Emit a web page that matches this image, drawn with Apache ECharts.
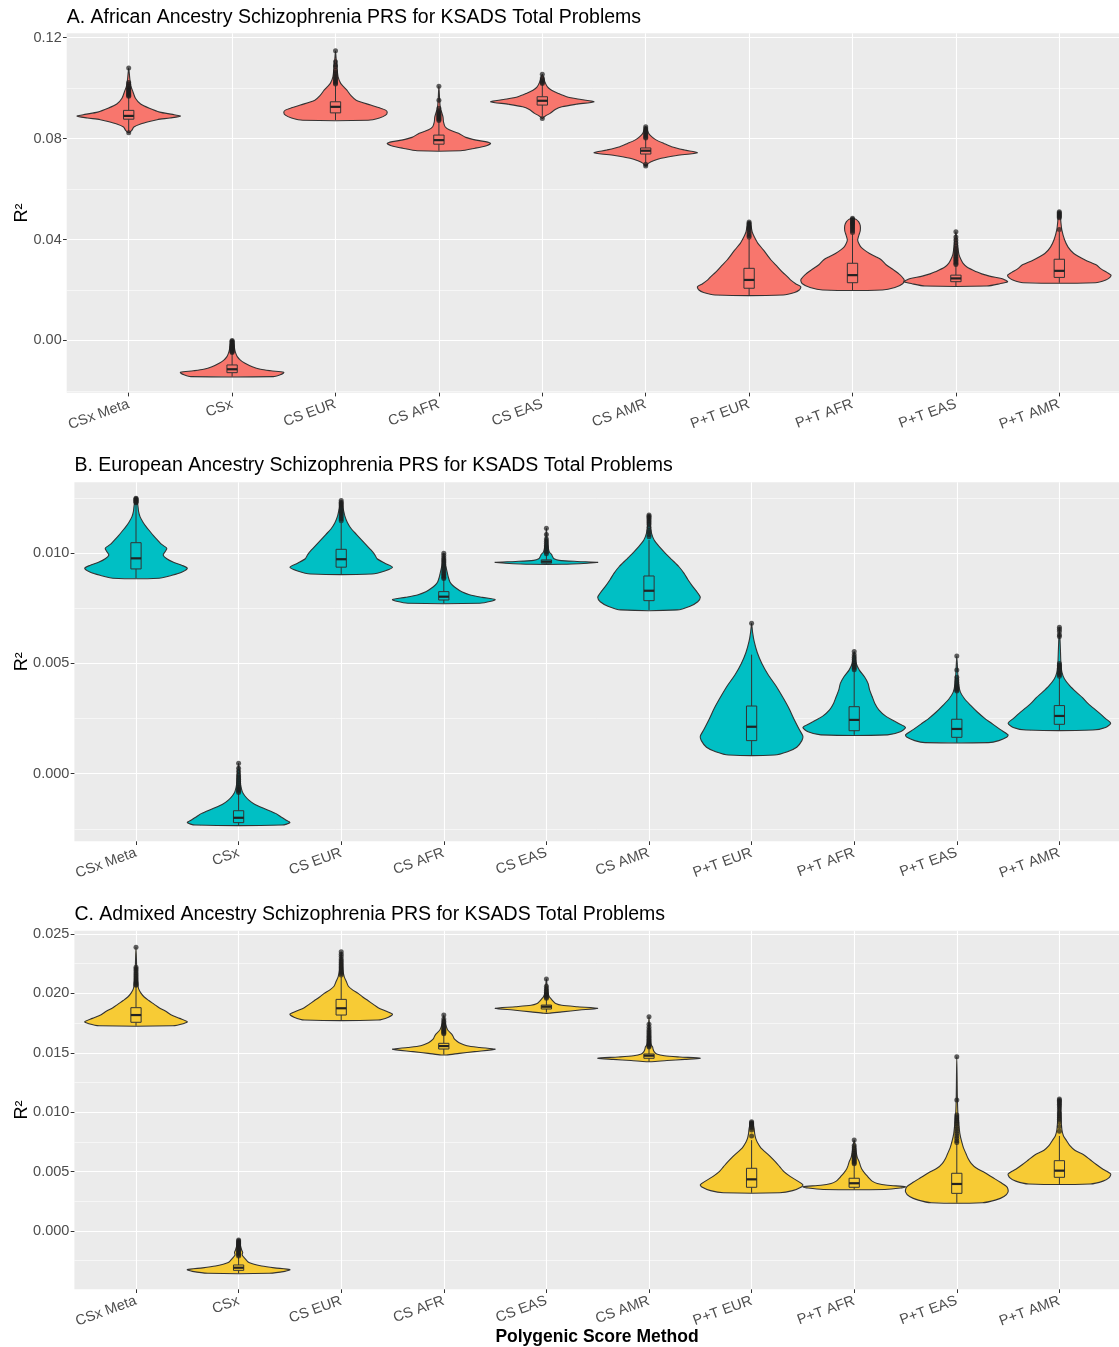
<!DOCTYPE html>
<html><head><meta charset="utf-8">
<script src="https://cdn.jsdelivr.net/npm/echarts@6/dist/echarts.min.js"></script>
<style>html,body{margin:0;padding:0;background:#fff}#chart{width:1119px;height:1347px}</style>
</head><body><div id="chart"></div>
<script>
const categories = ['CSx Meta', 'CSx', 'CS EUR', 'CS AFR', 'CS EAS', 'CS AMR', 'P+T EUR', 'P+T AFR', 'P+T EAS', 'P+T AMR'];

const majorTicksA = [0, 0.04, 0.08, 0.12];
const minorTicksA = [-0.02, 0.02, 0.06, 0.10];
const majorTicksB = [0, 0.005, 0.010];
const minorTicksB = [-0.0025, 0.0025, 0.0075, 0.0125];
const majorTicksC = [0, 0.005, 0.010, 0.015, 0.020, 0.025];
const minorTicksC = [-0.0025, 0.0025, 0.0075, 0.0125, 0.0175, 0.0225];

// violin profiles: [R2 value, relative density width] from bottom to top
const violinA = [
  [[0.0823,0],[0.0833,0.06],[0.0846,0.1],[0.0858,0.23],[0.0868,0.4],[0.0875,0.55],[0.0882,0.8],[0.0889,1.0],[0.0896,0.85],[0.0905,0.6],[0.0920,0.4],[0.0937,0.23],[0.0960,0.13],[0.0987,0.08],[0.1010,0.04],[0.1040,0.02],[0.1080,0]],
  [[-0.0143,0.8],[-0.0136,0.93],[-0.0130,0.99],[-0.0126,1.0],[-0.0120,0.75],[-0.0114,0.55],[-0.0104,0.39],[-0.0090,0.25],[-0.0078,0.16],[-0.0064,0.1],[-0.0050,0.07],[-0.0035,0.05],[-0.0020,0.04],[-0.0005,0.02],[0.0000,0]],
  [[0.0873,0.63],[0.0882,0.85],[0.0893,0.97],[0.0905,1.0],[0.0913,0.97],[0.0922,0.85],[0.0933,0.68],[0.0952,0.4],[0.0970,0.3],[0.0992,0.22],[0.1005,0.16],[0.1019,0.1],[0.1045,0.05],[0.1080,0.03],[0.1110,0.015],[0.1148,0]],
  [[0.0752,0.42],[0.0762,0.7],[0.0772,0.92],[0.0781,1.0],[0.0788,0.9],[0.0794,0.72],[0.0805,0.52],[0.0821,0.38],[0.0835,0.2],[0.0847,0.12],[0.0865,0.09],[0.0885,0.08],[0.0900,0.06],[0.0920,0.03],[0.0950,0.015],[0.1008,0]],
  [[0.0880,0],[0.0890,0.06],[0.0900,0.15],[0.0915,0.25],[0.0926,0.38],[0.0936,0.65],[0.0946,1.0],[0.0955,0.75],[0.0966,0.47],[0.0980,0.3],[0.0992,0.18],[0.1005,0.1],[0.1025,0.05],[0.1055,0]],
  [[0.0692,0],[0.0702,0.05],[0.0712,0.15],[0.0722,0.3],[0.0733,0.6],[0.0744,1.0],[0.0755,0.75],[0.0768,0.5],[0.0781,0.35],[0.0795,0.2],[0.0807,0.12],[0.0820,0.06],[0.0835,0.03],[0.0847,0]],
  [[0.0180,0.66],[0.0190,0.88],[0.0200,0.97],[0.0213,1.0],[0.0225,0.9],[0.0240,0.8],[0.0253,0.74],[0.0270,0.65],[0.0292,0.55],[0.0320,0.42],[0.0358,0.28],[0.0385,0.17],[0.0411,0.1],[0.0430,0.06],[0.0450,0.04],[0.0470,0]],
  [[0.0200,0.58],[0.0210,0.82],[0.0225,0.97],[0.0240,1.0],[0.0260,0.92],[0.0279,0.8],[0.0300,0.65],[0.0319,0.56],[0.0332,0.45],[0.0345,0.33],[0.0360,0.22],[0.0371,0.16],[0.0385,0.12],[0.0398,0.1],[0.0415,0.12],[0.0435,0.15],[0.0455,0.15],[0.0470,0.12],[0.0480,0.07],[0.0484,0]],
  [[0.0216,0.6],[0.0225,0.85],[0.0233,1.0],[0.0240,0.95],[0.0246,0.88],[0.0255,0.65],[0.0264,0.5],[0.0272,0.4],[0.0290,0.22],[0.0306,0.14],[0.0320,0.1],[0.0340,0.06],[0.0380,0.03],[0.0431,0]],
  [[0.0229,0.7],[0.0240,0.9],[0.0250,0.98],[0.0259,1.0],[0.0270,0.92],[0.0285,0.8],[0.0299,0.72],[0.0319,0.5],[0.0345,0.28],[0.0370,0.17],[0.0400,0.1],[0.0437,0.05],[0.0470,0.03],[0.0495,0.02],[0.0510,0]]
];
// box: [lower whisker, Q1, median, Q3, upper whisker]
const boxA = [
  [0.0828,0.0877,0.0890,0.0912,0.0963],
  [-0.0143,-0.01275,-0.0114,-0.0097,-0.0052],
  [0.0873,0.0902,0.0926,0.0946,0.1010],
  [0.0752,0.0778,0.0794,0.0814,0.0866],
  [0.0890,0.0933,0.0950,0.0966,0.1014],
  [0.0705,0.0739,0.0752,0.0763,0.0798],
  [0.0180,0.0207,0.0240,0.0286,0.0403],
  [0.0200,0.0229,0.0259,0.0306,0.0420],
  [0.0216,0.0233,0.0246,0.0259,0.0297],
  [0.0229,0.0250,0.0276,0.0322,0.0430]
];
const outliersA = [
  [0.1080,0.1022,0.1015,0.1008,0.1002,0.0998,0.0994,0.0990,0.0986,0.0982,0.0978,0.0975,0.0971,0.0968,0.0823],
  [0.0000,-0.0003,-0.0006,-0.0009,-0.0012,-0.0015,-0.0018,-0.0021,-0.0024,-0.0027,-0.0030,-0.0033,-0.0036,-0.0039,-0.0042,-0.0045,-0.0048],
  [0.1148,0.1105,0.1092,0.1085,0.1070,0.1062,0.1055,0.1048,0.1042,0.1036,0.1030,0.1025,0.1020,0.1016],
  [0.1008,0.0952,0.0920,0.0910,0.0905,0.0900,0.0896,0.0892,0.0888,0.0884,0.0880,0.0876,0.0872],
  [0.1055,0.1040,0.1033,0.1027,0.1022,0.1018,0.0880],
  [0.0847,0.0840,0.0834,0.0828,0.0823,0.0818,0.0812,0.0806,0.0802,0.0692,0.0698],
  [0.0470,0.0465,0.0461,0.0457,0.0453,0.0449,0.0445,0.0440,0.0432,0.0424,0.0416,0.0410],
  [0.0484,0.0480,0.0476,0.0472,0.0468,0.0464,0.0460,0.0455,0.0450,0.0445,0.0440,0.0434,0.0428],
  [0.0431,0.0410,0.0398,0.0386,0.0375,0.0366,0.0358,0.0350,0.0343,0.0336,0.0330,0.0324,0.0318,0.0312,0.0306,0.0301],
  [0.0510,0.0506,0.0502,0.0498,0.0494,0.0490,0.0486,0.0440]
];

const violinB = [
  [[0.00887,0.45],[0.00900,0.7],[0.00915,0.9],[0.00932,1.0],[0.00945,0.9],[0.00960,0.72],[0.00975,0.6],[0.00992,0.53],[0.01008,0.57],[0.01023,0.6],[0.01040,0.5],[0.01060,0.42],[0.01080,0.34],[0.01100,0.27],[0.01120,0.2],[0.01140,0.14],[0.01165,0.08],[0.01190,0.05],[0.01220,0.035],[0.01250,0]],
  [[-0.00233,0.85],[-0.00222,1.0],[-0.00210,0.92],[-0.00195,0.82],[-0.00180,0.72],[-0.00160,0.52],[-0.00140,0.32],[-0.00120,0.2],[-0.00100,0.12],[-0.00080,0.07],[-0.00050,0.04],[-0.00020,0.03],[0.00020,0.015],[0.00047,0]],
  [[0.00906,0.6],[0.00920,0.85],[0.00937,1.0],[0.00955,0.85],[0.00975,0.7],[0.00995,0.65],[0.01015,0.58],[0.01035,0.5],[0.01060,0.4],[0.01085,0.3],[0.01110,0.2],[0.01140,0.12],[0.01170,0.07],[0.01200,0.04],[0.01239,0]],
  [[0.00773,0.7],[0.00782,0.92],[0.00790,1.0],[0.00800,0.75],[0.00812,0.5],[0.00825,0.35],[0.00840,0.25],[0.00855,0.17],[0.00870,0.12],[0.00890,0.09],[0.00910,0.07],[0.00930,0.05],[0.00950,0.03],[0.00975,0.015],[0.01000,0]],
  [[0.00950,0.3],[0.00955,0.8],[0.00959,1.0],[0.00963,0.6],[0.00968,0.25],[0.00975,0.15],[0.00985,0.12],[0.00995,0.1],[0.01005,0.06],[0.01020,0.04],[0.01050,0.02],[0.01080,0.01],[0.01113,0]],
  [[0.00743,0.55],[0.00760,0.8],[0.00780,0.95],[0.00800,1.0],[0.00820,0.95],[0.00850,0.85],[0.00880,0.76],[0.00910,0.68],[0.00940,0.58],[0.00970,0.45],[0.01000,0.32],[0.01030,0.2],[0.01060,0.1],[0.01090,0.05],[0.01120,0.03],[0.01150,0.02],[0.01174,0]],
  [[0.00085,0.45],[0.00100,0.7],[0.00120,0.88],[0.00150,0.98],[0.00170,1.0],[0.00200,0.93],[0.00250,0.82],[0.00300,0.72],[0.00350,0.6],[0.00400,0.47],[0.00450,0.32],[0.00500,0.2],[0.00550,0.11],[0.00600,0.05],[0.00640,0.02],[0.00682,0]],
  [[0.00176,0.65],[0.00190,0.9],[0.00210,1.0],[0.00230,0.85],[0.00260,0.62],[0.00290,0.48],[0.00320,0.4],[0.00350,0.35],[0.00380,0.3],[0.00410,0.27],[0.00440,0.2],[0.00470,0.1],[0.00500,0.04],[0.00530,0.02],[0.00554,0]],
  [[0.00141,0.62],[0.00150,0.82],[0.00165,0.97],[0.00176,1.0],[0.00200,0.85],[0.00225,0.7],[0.00250,0.55],[0.00280,0.4],[0.00310,0.27],[0.00340,0.15],[0.00370,0.07],[0.00400,0.04],[0.00450,0.02],[0.00534,0]],
  [[0.00198,0.65],[0.00210,0.9],[0.00229,1.0],[0.00250,0.9],[0.00275,0.78],[0.00300,0.65],[0.00320,0.55],[0.00345,0.45],[0.00370,0.33],[0.00400,0.2],[0.00430,0.1],[0.00460,0.05],[0.00500,0.03],[0.00560,0.02],[0.00620,0.01],[0.00664,0]]
];
const boxB = [
  [0.00887,0.00929,0.00977,0.01048,0.01225],
  [-0.00233,-0.00222,-0.00200,-0.00168,-0.00090],
  [0.00906,0.00937,0.00973,0.01018,0.01138],
  [0.00773,0.00788,0.00803,0.00826,0.00882],
  [0.00951,0.00955,0.00962,0.00970,0.00992],
  [0.00743,0.00785,0.00830,0.00897,0.01060],
  [0.00085,0.00150,0.00213,0.00307,0.00540],
  [0.00176,0.00195,0.00244,0.00304,0.00465],
  [0.00141,0.00165,0.00203,0.00247,0.00368],
  [0.00198,0.00224,0.00262,0.00309,0.00435]
];
const outliersB = [
  [0.01250,0.01247,0.01244,0.01241,0.01238,0.01235,0.01232,0.01229],
  [0.00047,0.00025,0.00010,-0.00005,-0.00015,-0.00025,-0.00035,-0.00045,-0.00055,-0.00062,-0.00068,-0.00074,-0.00080,-0.00085],
  [0.01239,0.01232,0.01226,0.01220,0.01214,0.01208,0.01200,0.01192,0.01185,0.01178,0.01170,0.01162,0.01155,0.01148],
  [0.01000,0.00990,0.00980,0.00972,0.00965,0.00958,0.00950,0.00942,0.00935,0.00928,0.00920,0.00912,0.00905,0.00898,0.00891,0.00886],
  [0.01113,0.01085,0.01065,0.01055,0.01045,0.01035,0.01028,0.01020,0.01012,0.01005,0.00998],
  [0.01174,0.01168,0.01162,0.01155,0.01148,0.01140,0.01130,0.01118,0.01105,0.01095,0.01085,0.01075],
  [0.00682],
  [0.00554,0.00540,0.00528,0.00518,0.00508,0.00500,0.00492,0.00485,0.00478,0.00472],
  [0.00534,0.00470,0.00438,0.00425,0.00415,0.00405,0.00398,0.00391,0.00385,0.00380,0.00375],
  [0.00664,0.00655,0.00645,0.00630,0.00622,0.00500,0.00492,0.00485,0.00478,0.00470,0.00463,0.00456,0.00449,0.00442]
];

const violinC = [
  [[0.01728,0.72],[0.01745,0.92],[0.01762,1.0],[0.01790,0.85],[0.01820,0.68],[0.01850,0.58],[0.01880,0.45],[0.01910,0.35],[0.01940,0.25],[0.01970,0.16],[0.02000,0.1],[0.02040,0.05],[0.02100,0.03],[0.02200,0.015],[0.02388,0]],
  [[-0.00356,0.6],[-0.00340,0.9],[-0.00325,1.0],[-0.00310,0.7],[-0.00295,0.45],[-0.00280,0.3],[-0.00265,0.2],[-0.00250,0.16],[-0.00235,0.13],[-0.00220,0.1],[-0.00200,0.07],[-0.00180,0.08],[-0.00160,0.06],[-0.00130,0.04],[-0.00100,0.02],[-0.00076,0]],
  [[0.01776,0.72],[0.01800,0.92],[0.01825,1.0],[0.01850,0.88],[0.01880,0.72],[0.01910,0.62],[0.01940,0.52],[0.01970,0.42],[0.02000,0.33],[0.02030,0.22],[0.02060,0.14],[0.02100,0.1],[0.02140,0.06],[0.02200,0.03],[0.02280,0.015],[0.02351,0]],
  [[0.01482,0.05],[0.01495,0.3],[0.01510,0.6],[0.01530,1.0],[0.01545,0.7],[0.01560,0.45],[0.01580,0.32],[0.01600,0.25],[0.01620,0.2],[0.01640,0.18],[0.01660,0.15],[0.01690,0.08],[0.01720,0.05],[0.01760,0.02],[0.01818,0]],
  [[0.01833,0.05],[0.01845,0.3],[0.01860,0.65],[0.01875,1.0],[0.01888,0.6],[0.01900,0.3],[0.01915,0.18],[0.01930,0.14],[0.01950,0.1],[0.01970,0.06],[0.02000,0.03],[0.02060,0.015],[0.02121,0]],
  [[0.01425,0.05],[0.01435,0.35],[0.01445,0.7],[0.01455,1.0],[0.01465,0.6],[0.01475,0.3],[0.01490,0.15],[0.01510,0.1],[0.01530,0.08],[0.01550,0.07],[0.01570,0.04],[0.01600,0.025],[0.01650,0.015],[0.01720,0.01],[0.01804,0]],
  [[0.00322,0.55],[0.00340,0.8],[0.00370,0.97],[0.00390,1.0],[0.00420,0.9],[0.00460,0.75],[0.00500,0.63],[0.00540,0.55],[0.00580,0.47],[0.00620,0.38],[0.00660,0.28],[0.00700,0.18],[0.00740,0.12],[0.00780,0.08],[0.00820,0.06],[0.00860,0.05],[0.00900,0.03],[0.00920,0]],
  [[0.00350,0.6],[0.00362,0.9],[0.00373,1.0],[0.00385,0.65],[0.00400,0.45],[0.00420,0.35],[0.00440,0.3],[0.00460,0.26],[0.00490,0.2],[0.00520,0.15],[0.00550,0.12],[0.00580,0.1],[0.00620,0.06],[0.00660,0.04],[0.00720,0.02],[0.00766,0]],
  [[0.00238,0.5],[0.00260,0.75],[0.00290,0.92],[0.00330,1.0],[0.00370,0.98],[0.00410,0.85],[0.00450,0.7],[0.00490,0.55],[0.00530,0.38],[0.00570,0.28],[0.00610,0.22],[0.00650,0.18],[0.00700,0.13],[0.00760,0.09],[0.00820,0.06],[0.00900,0.04],[0.01000,0.02],[0.01150,0.01],[0.01300,0.006],[0.01467,0]],
  [[0.00396,0.6],[0.00420,0.85],[0.00450,0.97],[0.00480,1.0],[0.00520,0.85],[0.00560,0.72],[0.00600,0.6],[0.00640,0.48],[0.00680,0.3],[0.00720,0.2],[0.00760,0.14],[0.00800,0.08],[0.00850,0.05],[0.00950,0.03],[0.01050,0.015],[0.01111,0]]
];
const boxC = [
  [0.01728,0.01757,0.01818,0.01880,0.02060],
  [-0.00356,-0.00331,-0.00309,-0.00286,-0.00220],
  [0.01776,0.01818,0.01875,0.01950,0.02140],
  [0.01485,0.01532,0.01557,0.01580,0.01650],
  [0.01840,0.01869,0.01888,0.01902,0.01950],
  [0.01425,0.01454,0.01476,0.01490,0.01543],
  [0.00322,0.00368,0.00435,0.00528,0.00765],
  [0.00350,0.00368,0.00402,0.00444,0.00555],
  [0.00238,0.00317,0.00396,0.00486,0.00735],
  [0.00396,0.00452,0.00508,0.00592,0.00800]
];
const outliersC = [
  [0.02388,0.02220,0.02205,0.02190,0.02175,0.02160,0.02145,0.02130,0.02118,0.02105,0.02095,0.02085,0.02075,0.02068],
  [-0.00076,-0.00085,-0.00092,-0.00100,-0.00108,-0.00115,-0.00122,-0.00130,-0.00140,-0.00150,-0.00160,-0.00170,-0.00180,-0.00190,-0.00200,-0.00210],
  [0.02351,0.02330,0.02310,0.02290,0.02275,0.02260,0.02245,0.02230,0.02218,0.02205,0.02192,0.02180,0.02168,0.02156],
  [0.01818,0.01785,0.01765,0.01750,0.01738,0.01727,0.01716,0.01705,0.01695,0.01686,0.01677,0.01668,0.01660],
  [0.02121,0.02060,0.02040,0.02025,0.02010,0.01998,0.01988,0.01978,0.01968,0.01960],
  [0.01804,0.01740,0.01715,0.01695,0.01680,0.01665,0.01650,0.01638,0.01626,0.01615,0.01604,0.01594,0.01584,0.01575,0.01566,0.01558,0.01550],
  [0.00920,0.00912,0.00905,0.00898,0.00890,0.00880,0.00868,0.00850,0.00800],
  [0.00766,0.00720,0.00700,0.00685,0.00670,0.00655,0.00642,0.00630,0.00618,0.00606,0.00595,0.00585,0.00575,0.00566],
  [0.01467,0.01103,0.00977,0.00960,0.00945,0.00930,0.00915,0.00900,0.00880,0.00860,0.00840,0.00820,0.00800,0.00780,0.00760,0.00745],
  [0.01111,0.01100,0.01090,0.01080,0.01068,0.01055,0.01040,0.01020,0.01000,0.00985,0.00970,0.00955,0.00940,0.00920,0.00880,0.00840]
];

const FONT = "'Liberation Sans', Arial, Helvetica, sans-serif";
const W = 1119;
const panels = [
  {title: 'A. African Ancestry Schizophrenia PRS for KSADS Total Problems', color: '#F8766D',
   violin: violinA, box: boxA, out: outliersA, major: majorTicksA, minor: minorTicksA, dec: 2,
   min: -0.02069, max: 0.12174, top: 33.3, height: 359.4, left: 66.7, c0: 128.7, c9: 1059.3, titleTop: 7.5, nameGap: 36},
  {title: 'B. European Ancestry Schizophrenia PRS for KSADS Total Problems', color: '#00BFC4',
   violin: violinB, box: boxB, out: outliersB, major: majorTicksB, minor: minorTicksB, dec: 3,
   min: -0.003067, max: 0.01322, top: 482.3, height: 359.0, left: 74.4, c0: 136, c9: 1059.4, titleTop: 456, nameGap: 43.5},
  {title: 'C. Admixed Ancestry Schizophrenia PRS for KSADS Total Problems', color: '#F7CB35',
   violin: violinC, box: boxC, out: outliersC, major: majorTicksC, minor: minorTicksC, dec: 3,
   min: -0.004907, max: 0.02528, top: 930.7, height: 358.6, left: 74.4, c0: 136, c9: 1059.4, titleTop: 905, nameGap: 43.5}
];

function violinRender(profiles, color) {
  return function (params, api) {
    const i = api.value(0);
    const prof = profiles[i];
    const half = api.size([1, 0])[0] * 0.5;
    const leftPts = [], rightPts = [];
    prof.forEach(function (d) {
      const p = api.coord([i, d[0]]);
      leftPts.push([p[0] - d[1] * half, p[1]]);
      if (d[1] > 0) rightPts.push([p[0] + d[1] * half, p[1]]);
    });
    const pts = leftPts.concat(rightPts.reverse());
    return {
      type: 'polygon',
      shape: { points: pts, smooth: 0.25 },
      style: { fill: color, stroke: '#333333', lineWidth: 1.1 }
    };
  };
}

function boxRender(boxes, color) {
  return function (params, api) {
    const i = api.value(0);
    const b = boxes[i];
    const x = api.coord([i, b[2]])[0];
    const bw = api.size([1, 0])[0] * 0.05;
    const y = b.map(function (v) { return api.coord([i, v])[1]; });
    const ln = { stroke: '#333', lineWidth: 1 };
    return {
      type: 'group',
      children: [
        { type: 'line', shape: { x1: x, y1: y[4], x2: x, y2: y[3] }, style: ln },
        { type: 'line', shape: { x1: x, y1: y[1], x2: x, y2: y[0] }, style: ln },
        { type: 'rect', shape: { x: x - bw, y: y[3], width: 2 * bw, height: y[1] - y[3] }, style: { fill: color, stroke: '#333', lineWidth: 1 } },
        { type: 'line', shape: { x1: x - bw, y1: y[2], x2: x + bw, y2: y[2] }, style: { stroke: '#222', lineWidth: 2.2 } }
      ]
    };
  };
}

const option = {
  animation: false,
  backgroundColor: '#ffffff',
  title: [], grid: [], xAxis: [], yAxis: [], series: []
};

panels.forEach(function (p, k) {
  option.title.push({
    text: p.title, left: p.left, top: p.titleTop, padding: 0,
    textStyle: { fontFamily: FONT, fontSize: 19.5, fontWeight: 'normal', color: '#000' }
  });
  option.grid.push({ left: p.left, right: 0, top: p.top, height: p.height, show: true, backgroundColor: '#EBEBEB', borderWidth: 0 });
  option.grid.push({ left: p.c0, right: W - p.c9, top: p.top, height: p.height, show: false });

  option.xAxis.push({ type: 'value', gridIndex: 2 * k, min: 0, max: 1, show: false });
  option.xAxis.push({
    type: 'category', gridIndex: 2 * k + 1, data: categories, boundaryGap: false, position: 'bottom',
    axisLine: { show: false, onZero: false },
    axisTick: { show: true, length: 3.7, lineStyle: { color: '#333', width: 1 } },
    axisLabel: { interval: 0, rotate: 20, margin: 11, color: '#4D4D4D', fontSize: 14.5, fontFamily: FONT },
    splitLine: { show: true, lineStyle: { color: '#ffffff', width: 1.1 } }
  });

  option.yAxis.push({
    type: 'value', gridIndex: 2 * k, min: p.min, max: p.max,
    name: 'R²', nameLocation: 'middle', nameGap: p.nameGap, nameRotate: 90, nameMoveOverlap: false,
    nameTextStyle: { fontFamily: FONT, fontSize: 18, color: '#000' },
    axisLine: { show: false, onZero: false },
    axisTick: { show: true, length: 3.7, customValues: p.major, lineStyle: { color: '#333', width: 1 } },
    axisLabel: { customValues: p.major, margin: 5, color: '#4D4D4D', fontSize: 14.5, fontFamily: FONT,
      formatter: function (v) { return Number(v).toFixed(p.dec); } },
    splitLine: { show: true, lineStyle: { color: '#ffffff', width: 1.1 } }
  });
  option.yAxis.push({
    type: 'value', gridIndex: 2 * k, min: p.min, max: p.max,
    axisLine: { show: false, onZero: false },
    axisTick: { show: false, customValues: p.minor },
    axisLabel: { show: false, customValues: p.minor },
    splitLine: { show: true, lineStyle: { color: '#ffffff', width: 0.55 } }
  });
  option.yAxis.push({ type: 'value', gridIndex: 2 * k + 1, min: p.min, max: p.max, show: false });

  const idx = categories.map(function (c, i) { return [i, p.box[i][2]]; });
  option.series.push({
    type: 'custom', xAxisIndex: 2 * k + 1, yAxisIndex: 3 * k + 2, data: idx, z: 2, silent: true,
    renderItem: violinRender(p.violin, p.color)
  });
  option.series.push({
    type: 'custom', xAxisIndex: 2 * k + 1, yAxisIndex: 3 * k + 2, data: idx, z: 3, silent: true,
    renderItem: boxRender(p.box, p.color)
  });
  const pts = [];
  p.out.forEach(function (arr, i) { arr.forEach(function (v) { pts.push([i, v]); }); });
  option.series.push({
    type: 'scatter', xAxisIndex: 2 * k + 1, yAxisIndex: 3 * k + 2, data: pts, z: 4, silent: true,
    symbolSize: 5, itemStyle: { color: 'rgba(30,30,30,0.88)' }
  });
});

option.title.push({
  text: 'Polygenic Score Method', left: 597, top: 1328, textAlign: 'center', padding: 0,
  textStyle: { fontFamily: FONT, fontSize: 17.5, fontWeight: 'bold', color: '#000' }
});

const chart = echarts.init(document.getElementById('chart'), null, { renderer: 'canvas' });
chart.setOption(option);
</script></body></html>
